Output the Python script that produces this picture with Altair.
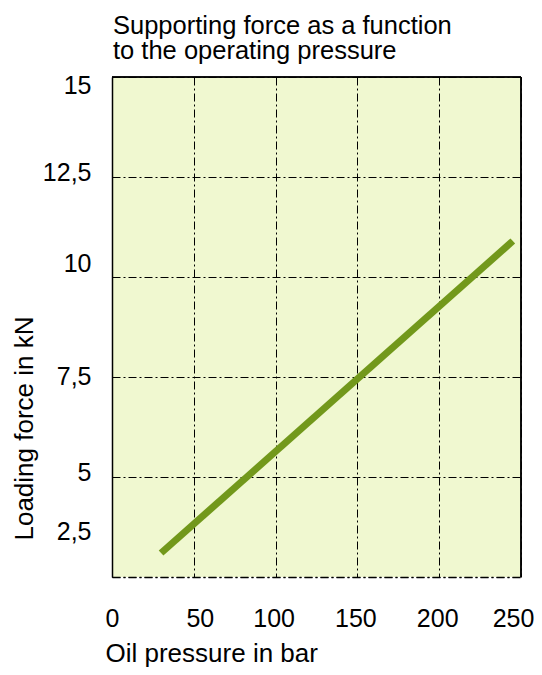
import altair as alt
import pandas as pd

# Data
pressure_bar = [30, 245]
force_kn = [3.1, 10.9]

x_ticks = [0, 50, 100, 150, 200, 250]
y_ticks = [2.5, 5, 7.5, 10, 12.5, 15]

title_lines = ["Supporting force as a function", "to the operating pressure"]
x_title = "Oil pressure in bar"
y_title = "Loading force in kN"

FONT = "Liberation Sans"
BG = "#F0F8D0"
LINE = "#72981B"
DASH = [8, 3, 2, 3]

df = pd.DataFrame({"p": pressure_bar, "f": force_kn})

x_scale = alt.Scale(domain=[0, 250], nice=False, zero=False)
y_scale = alt.Scale(domain=[2.5, 15], nice=False, zero=False)

x_axis = alt.Axis(
    values=x_ticks, title=x_title, grid=True, gridDash=DASH, gridColor="black",
    gridWidth=1, gridOpacity=1, ticks=False, tickSize=0,
    domain=True, domainDash=DASH, domainColor="black", domainWidth=1.5,
    labelFont=FONT, labelFontSize=25, labelColor="black", labelPadding=29,
    labelFlush=False,
    labelOffset={"expr": "datum.value == 50 ? 6 : datum.value == 0 ? 0 : datum.value == 250 ? -8 : -2"},
    titleFont=FONT, titleFontSize=26, titleFontWeight="normal", titleColor="black",
    titleAnchor="start", titleAlign="left", titleBaseline="alphabetic",
    titleX=-7, titleY=84,
)

y_axis = alt.Axis(
    values=y_ticks, title=y_title, grid=True, gridDash=DASH, gridColor="black",
    gridWidth=1, gridOpacity=1, ticks=False, tickSize=0,
    domain=True, domainColor="black", domainWidth=1.5,
    labelFont=FONT, labelFontSize=25, labelColor="black", labelPadding=21,
    labelAlign="right", labelBaseline="middle", labelFlush=False,
    labelExpr="replace(format(datum.value, '~g'), '.', ',')",
    labelOffset={"expr": "datum.value == 15 ? 8 : datum.value == 12.5 ? -5 : datum.value == 10 ? -14 : datum.value == 7.5 ? -1 : datum.value == 5 ? -5 : datum.value == 2.5 ? -46 : 0"},
    titleFont=FONT, titleFontSize=26, titleFontWeight="normal", titleColor="black",
    titleAngle=270, titleAlign="center", titleBaseline="alphabetic",
    titleX=-80, titleY=351,
)

line = alt.Chart(df).mark_line(color=LINE, strokeWidth=7, strokeCap="butt").encode(
    x=alt.X("p:Q", scale=x_scale, axis=x_axis),
    y=alt.Y("f:Q", scale=y_scale, axis=y_axis),
)

top_rule = alt.Chart(df).mark_rule(color="black", strokeWidth=1.5).encode(
    y=alt.datum(15)
)
right_rule = alt.Chart(df).mark_rule(color="black", strokeWidth=1.5).encode(
    x=alt.datum(250)
)

chart = alt.layer(line, top_rule, right_rule).properties(
    width=409,
    height=500,
    title=alt.TitleParams(
        text=title_lines, font=FONT, fontSize=25.5, fontWeight="normal", color="black",
        anchor="start", align="left", baseline="bottom", lineHeight=25, offset=25,
        frame="group", dx=1, dy=41,
    ),
    autosize=alt.AutoSizeParams(type="none"),
    padding={"left": 104, "top": 69, "right": 13, "bottom": 90},
    background="white",
).configure_view(fill=BG, stroke=None)

chart.save("out.html", embed_options={"renderer": "svg", "actions": False})
